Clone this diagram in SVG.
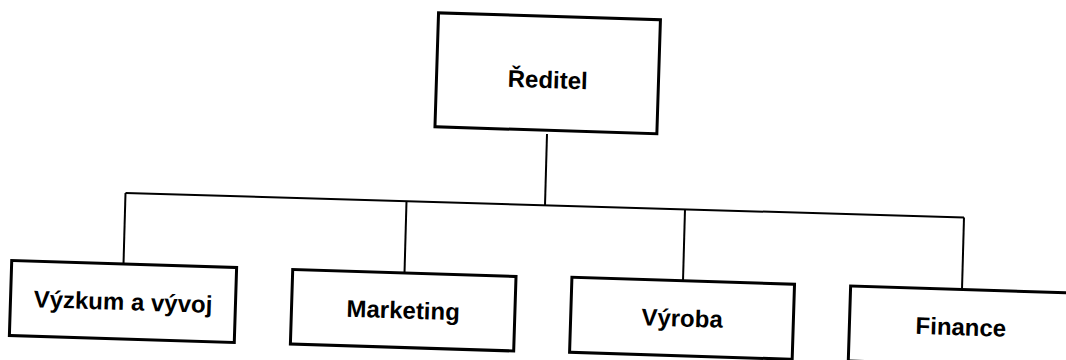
<svg xmlns="http://www.w3.org/2000/svg" width="1066" height="360" viewBox="0 0 1066 360">
  <style>
    .box { fill: #ffffff; stroke: #000000; stroke-width: 3; }
    .conn { fill: none; stroke: #000000; stroke-width: 2; }
    .label { font-family: "Liberation Sans", Arial, sans-serif; font-size: 24px; font-weight: bold; fill: #000000; text-anchor: middle; }
  </style>
  <rect x="0" y="0" width="1066" height="360" fill="#ffffff"/>
  <g id="connectors">
    <line class="conn" x1="547" y1="134" x2="545" y2="205.2"/>
    <line class="conn" x1="125.5" y1="193" x2="964" y2="217.5"/>
    <line class="conn" x1="125.5" y1="193" x2="123.5" y2="264"/>
    <line class="conn" x1="406.5" y1="201.2" x2="404.5" y2="273"/>
    <line class="conn" x1="685" y1="209.3" x2="683" y2="281"/>
    <line class="conn" x1="964" y1="217.5" x2="962" y2="289.5"/>
  </g>
  <g id="reditel" transform="rotate(1.8 547.7 73.3)">
    <rect class="box" x="436.7" y="16.3" width="222" height="114"/>
    <text class="label" x="548" y="88">Ředitel</text>
  </g>
  <g id="vyzkum" transform="rotate(1.8 123 301.5)">
    <rect class="box" x="10.5" y="264" width="225" height="75"/>
    <text class="label" x="123" y="310">Výzkum a vývoj</text>
  </g>
  <g id="marketing" transform="rotate(1.8 403.2 310.3)">
    <rect class="box" x="291.5" y="273" width="223.4" height="74.5"/>
    <text class="label" x="403.2" y="318.5">Marketing</text>
  </g>
  <g id="vyroba" transform="rotate(1.8 682.1 318.3)">
    <rect class="box" x="570.7" y="280.8" width="222.7" height="75"/>
    <text class="label" x="682.1" y="326.5">Výroba</text>
  </g>
  <g id="finance" transform="rotate(1.8 960.9 327)">
    <rect class="box" x="849.4" y="289.5" width="223" height="75"/>
    <text class="label" x="960.9" y="335.3">Finance</text>
  </g>
</svg>
